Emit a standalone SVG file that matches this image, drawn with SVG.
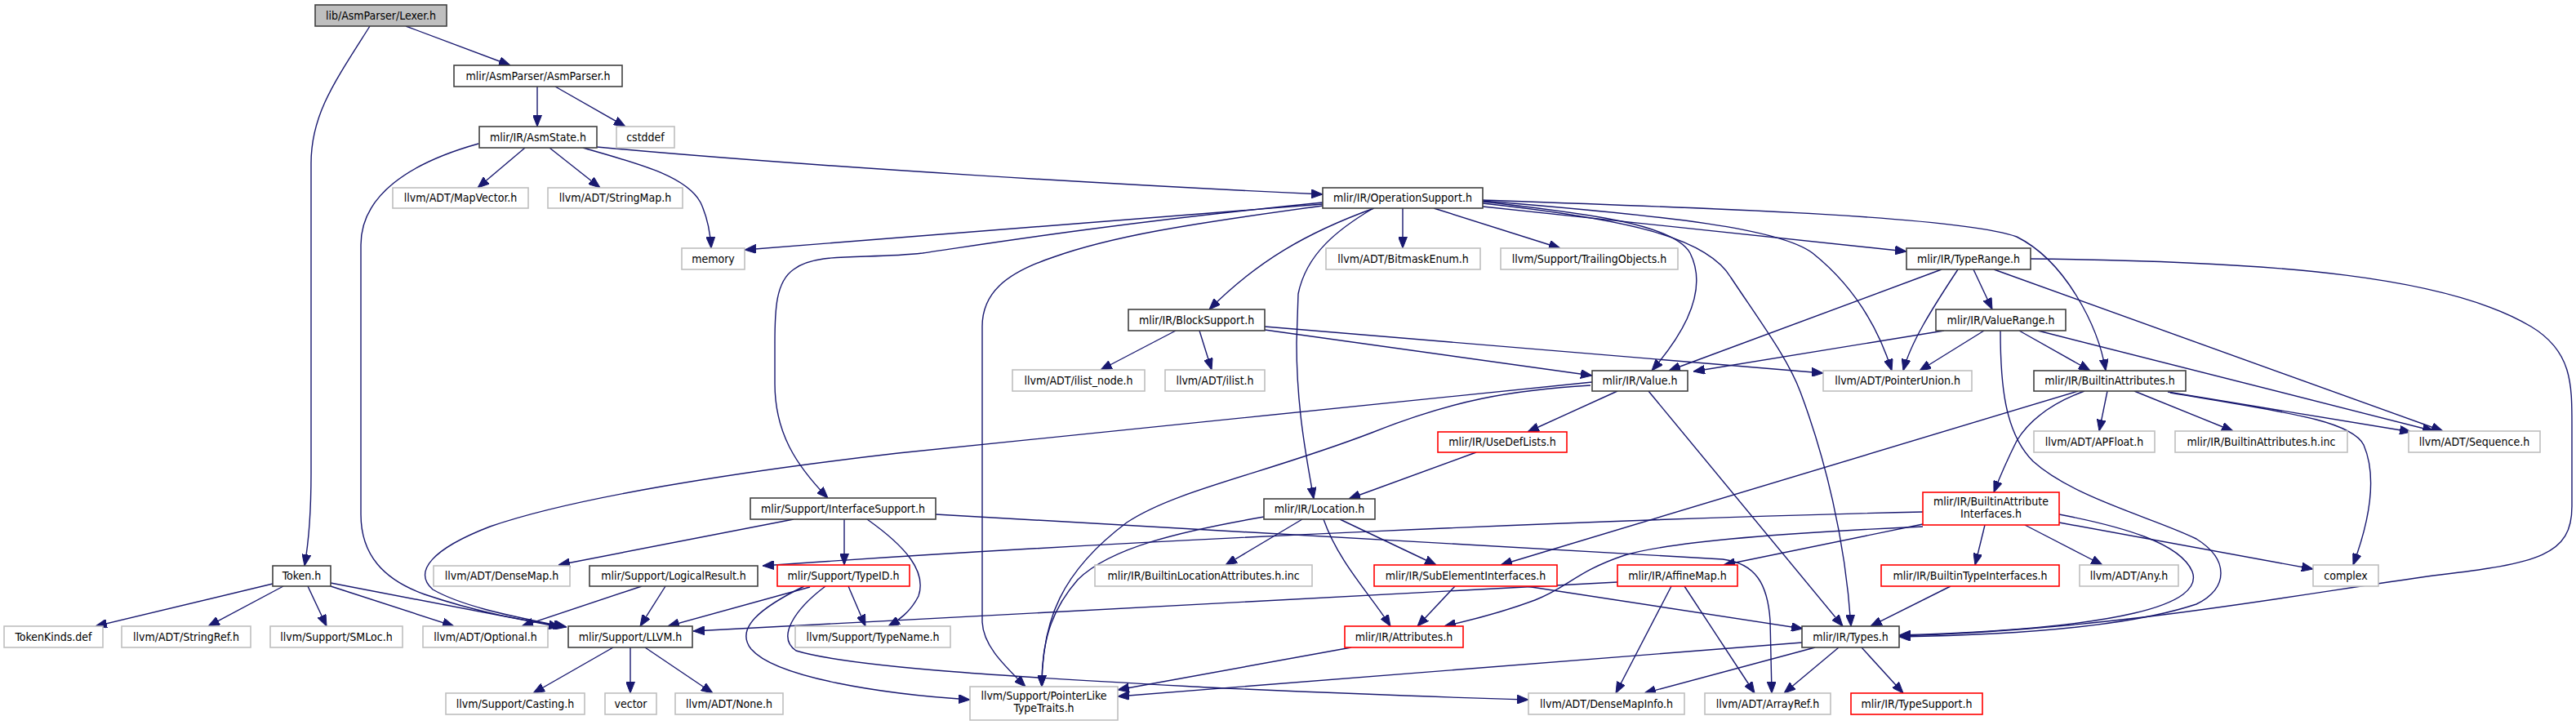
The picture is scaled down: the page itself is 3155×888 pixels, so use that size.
<svg xmlns="http://www.w3.org/2000/svg" width="3155" height="888" viewBox="0 0 3155 888">
<style>
text{font-family:"DejaVu Sans Condensed","DejaVu Sans",sans-serif;font-stretch:condensed;font-size:14px;fill:#000;text-anchor:middle}
.b{fill:#fff;stroke:#404040;stroke-width:1.6}
.g{fill:#fff;stroke:#bfbfbf;stroke-width:1.6}
.r{fill:#fff;stroke:#ff0000;stroke-width:1.6}
.s{fill:#bfbfbf;stroke:#404040;stroke-width:1.6}
#edges path{fill:none;stroke:#191970;stroke-width:1.4;marker-end:url(#a)}
</style>
<defs>
<marker id="a" markerUnits="userSpaceOnUse" markerWidth="14" markerHeight="11" viewBox="0 0 14 11" refX="14" refY="5.5" orient="auto"><path d="M0,0L14,5.5L0,11z" fill="#191970" stroke="#191970" stroke-width="1"/></marker>
</defs>
<rect width="3155" height="888" fill="#fff"/>
<g id="edges">
<path d="M497,32L625,80"/>
<path d="M453,32C410,100 381,140 381,200L381,580C381,630 377,670 373,693"/>
<path d="M658,106L658,155"/>
<path d="M680,106L766,155"/>
<path d="M643,181L585,230"/>
<path d="M673,181L735,230"/>
<path d="M714,181C780,200 840,215 858,248C866,265 870,285 871,304"/>
<path d="M731,180C1000,205 1400,228 1620,238"/>
<path d="M586,176C500,200 442,240 442,300L442,630C442,680 470,710 520,728C600,755 660,762 694,768"/>
<path d="M1620,250L912,306"/>
<path d="M1718,255L1718,304"/>
<path d="M1756,255L1911,304"/>
<path d="M1816,253L2335,308"/>
<path d="M1683,255C1600,285 1540,320 1481,379"/>
<path d="M1620,248C1350,275 1200,300 1130,310C1060,318 1000,308 972,330C950,345 949,380 949,420L949,470C949,530 975,570 1014,610"/>
<path d="M1682,255C1640,280 1600,310 1590,360L1588,420C1588,500 1600,560 1609,611"/>
<path d="M1620,252C1450,275 1360,290 1290,315C1230,335 1203,360 1203,400L1203,760C1203,790 1230,815 1256,841"/>
<path d="M1816,247C1950,262 2050,275 2070,310C2090,350 2070,400 2023,454"/>
<path d="M1816,246C2050,265 2180,280 2220,310C2270,350 2300,400 2317,454"/>
<path d="M1816,249C1990,268 2090,290 2120,340C2160,400 2190,440 2205,480C2235,560 2260,660 2267,767"/>
<path d="M1816,245C2100,255 2400,265 2470,290C2530,320 2570,400 2579,454"/>
<path d="M2378,330L2044,454"/>
<path d="M2398,330C2365,380 2340,420 2331,454"/>
<path d="M2417,330L2440,379"/>
<path d="M2442,330L2992,528"/>
<path d="M2487,317C2800,320 3000,340 3100,400C3150,430 3150,470 3150,520L3150,620C3150,680 3110,690 2980,705C2800,730 2600,770 2326,779"/>
<path d="M2381,405L2074,455"/>
<path d="M2430,405L2351,454"/>
<path d="M2473,405L2560,454"/>
<path d="M2496,405L2981,528"/>
<path d="M2450,405C2450,470 2455,530 2490,565C2540,610 2640,635 2690,660C2730,685 2730,720 2690,740C2600,770 2450,778 2326,780"/>
<path d="M1440,405L1348,453"/>
<path d="M1469,405L1484,453"/>
<path d="M1549,404L1950,460"/>
<path d="M1549,400L2233,457"/>
<path d="M1981,479L1871,529"/>
<path d="M2019,479L2257,767"/>
<path d="M1950,468L1100,555C900,578 700,610 600,645C530,672 505,700 530,722C570,745 640,757 692,768"/>
<path d="M1948,472C1850,478 1780,490 1680,530C1550,580 1440,600 1380,640C1300,700 1276,760 1276,841"/>
<path d="M1808,554L1652,611"/>
<path d="M2581,479L2571,528"/>
<path d="M2614,479L2735,528"/>
<path d="M2655,480L2953,529"/>
<path d="M2553,479C2510,495 2485,515 2470,540C2455,570 2447,590 2442,603"/>
<path d="M2545,479L1838,692"/>
<path d="M2658,481C2800,505 2880,515 2895,545C2910,580 2905,630 2882,692"/>
<path d="M2355,627C2000,635 1400,660 934,693"/>
<path d="M2431,643L2419,692"/>
<path d="M2480,643L2575,692"/>
<path d="M2522,640L2833,697"/>
<path d="M2522,630C2600,645 2670,665 2685,700C2700,740 2600,770 2326,778"/>
<path d="M2355,642L2111,692"/>
<path d="M2355,645C2200,652 2050,662 1990,680C1930,700 1920,720 1880,735C1840,750 1800,760 1769,767"/>
<path d="M972,636L684,692"/>
<path d="M1034,636L1034,692"/>
<path d="M1062,636C1110,670 1135,700 1125,730C1115,750 1100,760 1088,767"/>
<path d="M1146,630C1600,655 1900,670 2110,685C2150,690 2165,715 2168,760L2170,849"/>
<path d="M786,718L639,767"/>
<path d="M815,718L784,767"/>
<path d="M992,719L818,767"/>
<path d="M1039,718L1060,767"/>
<path d="M985,718C930,745 900,770 920,795C950,830 1080,850 1188,857"/>
<path d="M1011,718C975,745 950,780 975,797C1050,820 1300,832 1500,843C1700,852 1800,855 1872,857"/>
<path d="M1548,633C1450,650 1360,670 1320,710C1285,750 1276,790 1276,841"/>
<path d="M1595,636L1501,692"/>
<path d="M1641,636L1759,692"/>
<path d="M1621,636C1640,690 1680,730 1703,767"/>
<path d="M1782,718L1736,767"/>
<path d="M1869,718L2208,770"/>
<path d="M1981,713L849,773"/>
<path d="M2047,718L1979,849"/>
<path d="M2063,718L2149,849"/>
<path d="M1655,793L1369,845"/>
<path d="M2207,787L1369,853"/>
<path d="M2223,793L2014,849"/>
<path d="M2252,793L2185,849"/>
<path d="M2280,793L2331,849"/>
<path d="M2389,718L2291,767"/>
<path d="M334,715L117,767"/>
<path d="M347,718L255,767"/>
<path d="M377,718L400,767"/>
<path d="M405,718L556,767"/>
<path d="M405,714L686,768"/>
<path d="M751,793L653,849"/>
<path d="M772,793L772,849"/>
<path d="M790,793L873,849"/>
</g>
<g id="n_lexer"><rect class="s" x="386" y="6" width="161" height="26"/><text x="466.5" y="24">lib/AsmParser/Lexer.h</text></g>
<g id="n_asmparser"><rect class="b" x="556" y="80" width="206" height="26"/><text x="659" y="98">mlir/AsmParser/AsmParser.h</text></g>
<g id="n_asmstate"><rect class="b" x="587" y="155" width="144" height="26"/><text x="659" y="173">mlir/IR/AsmState.h</text></g>
<g id="n_cstddef"><rect class="g" x="755" y="155" width="71" height="26"/><text x="790.5" y="173">cstddef</text></g>
<g id="n_mapvector"><rect class="g" x="481" y="230" width="166" height="25"/><text x="564" y="247">llvm/ADT/MapVector.h</text></g>
<g id="n_stringmap"><rect class="g" x="671" y="230" width="165" height="25"/><text x="753.5" y="247">llvm/ADT/StringMap.h</text></g>
<g id="n_memory"><rect class="g" x="835" y="304" width="77" height="26"/><text x="873.5" y="322">memory</text></g>
<g id="n_opsupport"><rect class="b" x="1620" y="230" width="196" height="25"/><text x="1718" y="247">mlir/IR/OperationSupport.h</text></g>
<g id="n_bitmask"><rect class="g" x="1624" y="304" width="189" height="26"/><text x="1718.5" y="322">llvm/ADT/BitmaskEnum.h</text></g>
<g id="n_trailing"><rect class="g" x="1838" y="304" width="217" height="26"/><text x="1946.5" y="322">llvm/Support/TrailingObjects.h</text></g>
<g id="n_typerange"><rect class="b" x="2335" y="304" width="152" height="26"/><text x="2411" y="322">mlir/IR/TypeRange.h</text></g>
<g id="n_blocksupport"><rect class="b" x="1382" y="379" width="167" height="26"/><text x="1465.5" y="397">mlir/IR/BlockSupport.h</text></g>
<g id="n_valuerange"><rect class="b" x="2371" y="379" width="159" height="26"/><text x="2450.5" y="397">mlir/IR/ValueRange.h</text></g>
<g id="n_ilistnode"><rect class="g" x="1240" y="453" width="162" height="26"/><text x="1321" y="471">llvm/ADT/ilist_node.h</text></g>
<g id="n_ilist"><rect class="g" x="1427" y="453" width="122" height="26"/><text x="1488" y="471">llvm/ADT/ilist.h</text></g>
<g id="n_value"><rect class="b" x="1950" y="454" width="117" height="25"/><text x="2008.5" y="471">mlir/IR/Value.h</text></g>
<g id="n_pointerunion"><rect class="g" x="2233" y="454" width="182" height="25"/><text x="2324" y="471">llvm/ADT/PointerUnion.h</text></g>
<g id="n_builtinattrs"><rect class="b" x="2491" y="454" width="186" height="25"/><text x="2584" y="471">mlir/IR/BuiltinAttributes.h</text></g>
<g id="n_usedeflists"><rect class="r" x="1761" y="529" width="158" height="25"/><text x="1840" y="546">mlir/IR/UseDefLists.h</text></g>
<g id="n_apfloat"><rect class="g" x="2491" y="528" width="148" height="26"/><text x="2565" y="546">llvm/ADT/APFloat.h</text></g>
<g id="n_bainc"><rect class="g" x="2664" y="528" width="211" height="26"/><text x="2769.5" y="546">mlir/IR/BuiltinAttributes.h.inc</text></g>
<g id="n_sequence"><rect class="g" x="2950" y="528" width="161" height="26"/><text x="3030.5" y="546">llvm/ADT/Sequence.h</text></g>
<g id="n_bai"><rect class="r" x="2355" y="603" width="167" height="40"/><text x="2438.5" y="619">mlir/IR/BuiltinAttribute</text><text x="2438.5" y="634">Interfaces.h</text></g>
<g id="n_ifsupport"><rect class="b" x="919" y="610" width="227" height="26"/><text x="1032.5" y="628">mlir/Support/InterfaceSupport.h</text></g>
<g id="n_location"><rect class="b" x="1548" y="611" width="136" height="25"/><text x="1616" y="628">mlir/IR/Location.h</text></g>
<g id="n_token"><rect class="b" x="334" y="693" width="71" height="25"/><text x="369.5" y="710">Token.h</text></g>
<g id="n_densemap"><rect class="g" x="531" y="693" width="167" height="25"/><text x="614.5" y="710">llvm/ADT/DenseMap.h</text></g>
<g id="n_logicalresult"><rect class="b" x="722" y="693" width="206" height="25"/><text x="825" y="710">mlir/Support/LogicalResult.h</text></g>
<g id="n_typeid"><rect class="r" x="952" y="692" width="162" height="26"/><text x="1033" y="710">mlir/Support/TypeID.h</text></g>
<g id="n_bla"><rect class="g" x="1341" y="692" width="266" height="26"/><text x="1474" y="710">mlir/IR/BuiltinLocationAttributes.h.inc</text></g>
<g id="n_subelem"><rect class="r" x="1683" y="692" width="224" height="26"/><text x="1795" y="710">mlir/IR/SubElementInterfaces.h</text></g>
<g id="n_affinemap"><rect class="r" x="1981" y="692" width="147" height="26"/><text x="2054.5" y="710">mlir/IR/AffineMap.h</text></g>
<g id="n_bti"><rect class="r" x="2304" y="692" width="218" height="26"/><text x="2413" y="710">mlir/IR/BuiltinTypeInterfaces.h</text></g>
<g id="n_any"><rect class="g" x="2547" y="692" width="121" height="26"/><text x="2607.5" y="710">llvm/ADT/Any.h</text></g>
<g id="n_complex"><rect class="g" x="2833" y="692" width="80" height="26"/><text x="2873" y="710">complex</text></g>
<g id="n_tokenkinds"><rect class="g" x="5" y="767" width="121" height="26"/><text x="65.5" y="785">TokenKinds.def</text></g>
<g id="n_stringref"><rect class="g" x="149" y="767" width="158" height="26"/><text x="228" y="785">llvm/ADT/StringRef.h</text></g>
<g id="n_smloc"><rect class="g" x="331" y="767" width="162" height="26"/><text x="412" y="785">llvm/Support/SMLoc.h</text></g>
<g id="n_optional"><rect class="g" x="518" y="767" width="153" height="26"/><text x="594.5" y="785">llvm/ADT/Optional.h</text></g>
<g id="n_llvm"><rect class="b" x="696" y="767" width="152" height="26"/><text x="772" y="785">mlir/Support/LLVM.h</text></g>
<g id="n_typename"><rect class="g" x="974" y="767" width="190" height="26"/><text x="1069" y="785">llvm/Support/TypeName.h</text></g>
<g id="n_attributes"><rect class="r" x="1647" y="767" width="145" height="26"/><text x="1719.5" y="785">mlir/IR/Attributes.h</text></g>
<g id="n_types"><rect class="b" x="2207" y="767" width="119" height="26"/><text x="2266.5" y="785">mlir/IR/Types.h</text></g>
<g id="n_casting"><rect class="g" x="546" y="849" width="170" height="26"/><text x="631" y="867">llvm/Support/Casting.h</text></g>
<g id="n_vector"><rect class="g" x="741" y="849" width="63" height="26"/><text x="772.5" y="867">vector</text></g>
<g id="n_none"><rect class="g" x="827" y="849" width="132" height="26"/><text x="893" y="867">llvm/ADT/None.h</text></g>
<g id="n_pointerlike"><rect class="g" x="1188" y="841" width="181" height="41"/><text x="1278.5" y="857">llvm/Support/PointerLike</text><text x="1278.5" y="872">TypeTraits.h</text></g>
<g id="n_densemapinfo"><rect class="g" x="1872" y="849" width="191" height="26"/><text x="1967.5" y="867">llvm/ADT/DenseMapInfo.h</text></g>
<g id="n_arrayref"><rect class="g" x="2088" y="849" width="154" height="26"/><text x="2165" y="867">llvm/ADT/ArrayRef.h</text></g>
<g id="n_typesupport"><rect class="r" x="2267" y="849" width="161" height="26"/><text x="2347.5" y="867">mlir/IR/TypeSupport.h</text></g>
</svg>
